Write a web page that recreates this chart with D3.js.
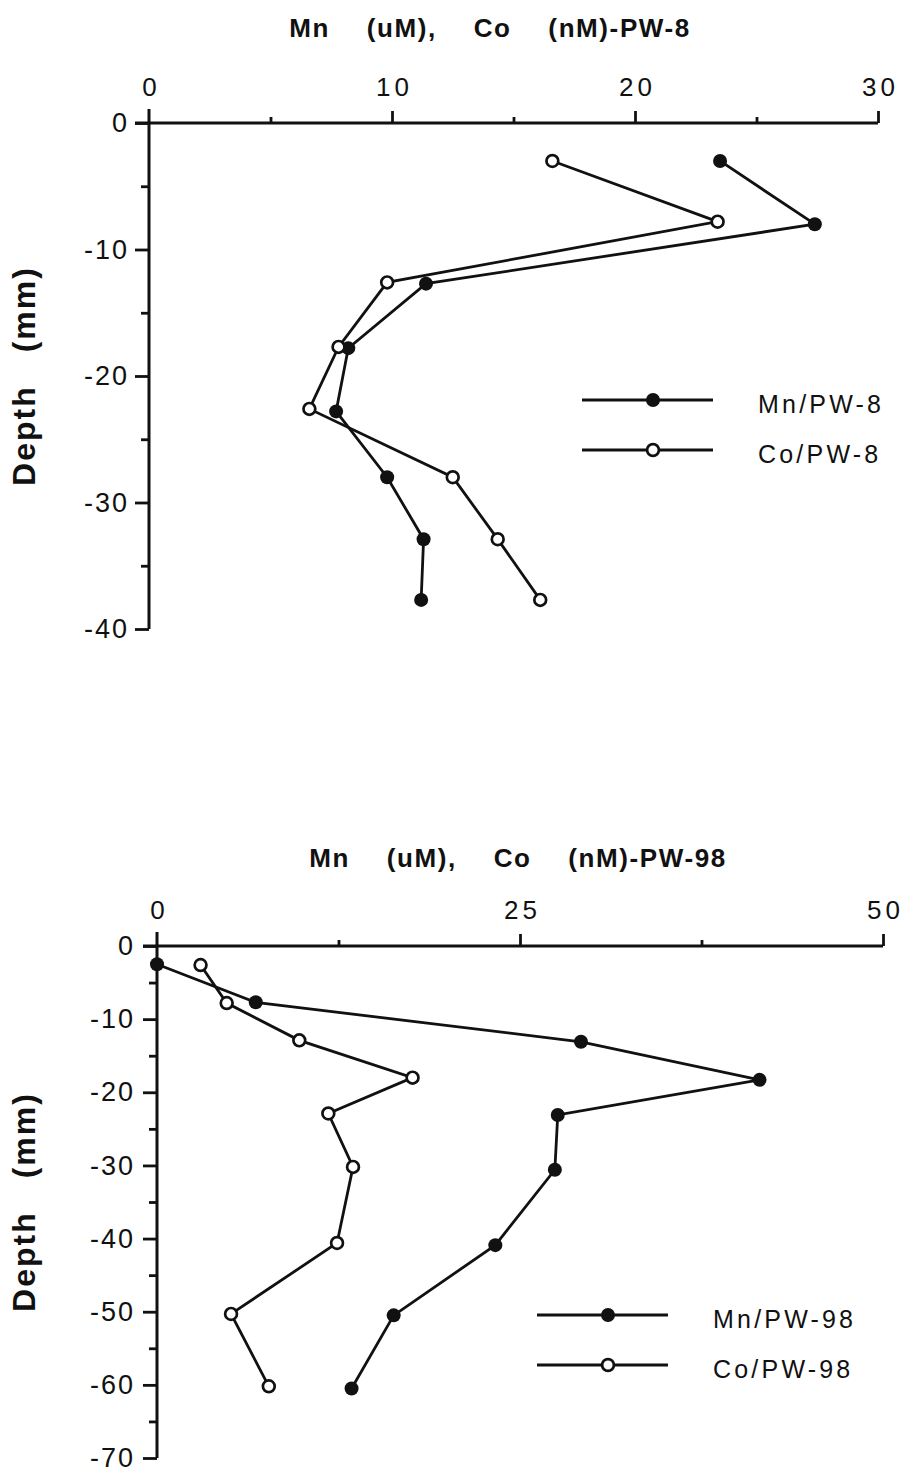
<!DOCTYPE html>
<html>
<head>
<meta charset="utf-8">
<script src="https://cdn.jsdelivr.net/npm/d3@7"></script>
<style>
  html, body { margin: 0; padding: 0; background: #fff; }
  svg text { font-family: "Liberation Sans", Arial, Helvetica, sans-serif; fill: #111; }
</style>
</head>
<body>
<div id="chart"></div>
<script>
// Mn / Co pore-water profiles, two cores (PW-8 on top, PW-98 below).

// ---- data ----
var mn8Value = [23.5, 27.4, 11.4, 8.2, 7.7, 9.8, 11.3, 11.2];
var mn8Depth = [-3, -8, -12.7, -17.8, -22.8, -28, -32.9, -37.7];
var co8Value = [16.6, 23.4, 9.8, 7.8, 6.6, 12.5, 14.35, 16.1];
var co8Depth = [-3, -7.8, -12.6, -17.7, -22.6, -28, -32.9, -37.7];

var mn98Value = [0, 6.8, 29.2, 41.5, 27.6, 27.4, 23.3, 16.3, 13.4];
var mn98Depth = [-2.5, -7.7, -13.1, -18.3, -23.1, -30.6, -40.9, -50.5, -60.5];
var co98Value = [3.0, 4.8, 9.8, 17.6, 11.8, 13.5, 12.4, 5.1, 7.7];
var co98Depth = [-2.6, -7.8, -12.9, -18, -22.9, -30.2, -40.6, -50.3, -60.2];

var xMajor8 = [0, 10, 20, 30];
var xMinor8 = [5, 15, 25];
var yMajor8 = [0, -10, -20, -30, -40];
var yMinor8 = [-5, -15, -25, -35];

var xMajor98 = [0, 25, 50];
var xMinor98 = [12.5, 37.5];
var yMajor98 = [0, -10, -20, -30, -40, -50, -60, -70];
var yMinor98 = [-5, -15, -25, -35, -45, -55, -65];

var titles = ["Mn (uM), Co (nM)-PW-8", "Mn (uM), Co (nM)-PW-98"];
var legend8 = ["Mn/PW-8", "Co/PW-8"];
var legend98 = ["Mn/PW-98", "Co/PW-98"];
var yTitle = "Depth (mm)";

var ink = "#111";
var plain = function (d) { return String(d); }; // hyphen minus, as in the print

var svg = d3.select("#chart").append("svg")
  .attr("width", 904).attr("height", 1475);

function zip(xs, ys) {
  return xs.map(function (v, i) { return { v: v, d: ys[i] }; });
}

function panel(opt) {
  var x = d3.scaleLinear().domain(opt.xDomain).range([opt.left, opt.right]);
  var y = d3.scaleLinear().domain(opt.yDomain).range([opt.top, opt.bottom]);
  var g = svg.append("g");

  // title
  g.append("text")
    .attr("x", opt.titleX).attr("y", opt.titleY)
    .attr("text-anchor", "middle")
    .style("font-size", "26px").style("font-weight", "bold")
    .style("letter-spacing", "1.6px").style("word-spacing", "28px")
    .text(opt.title);

  // y axis title
  g.append("text")
    .attr("transform", "translate(35," + (opt.top + opt.bottom) / 2 + ") rotate(-90)")
    .attr("text-anchor", "middle")
    .style("font-size", "32px").style("font-weight", "bold")
    .style("letter-spacing", "2px").style("word-spacing", "22px")
    .text(yTitle);

  // top x axis: major + minor ticks
  var xAxis = g.append("g").attr("transform", "translate(0," + opt.top + ")");
  xAxis.call(d3.axisTop(x).tickValues(opt.xMajor).tickSize(12).tickSizeOuter(0).tickPadding(15)
    .tickFormat(plain));
  xAxis.append("g").call(d3.axisTop(x).tickValues(opt.xMinor).tickSize(6).tickFormat(""))
    .select(".domain").remove();
  xAxis.selectAll(".domain").attr("d", "M" + (opt.left - 14) + ",0H" + opt.right);
  xAxis.selectAll(".tick").filter(function (d) { return d === 0; }).select("line").remove();
  xAxis.selectAll("text")
    .style("font-size", "26px").style("letter-spacing", "4px").attr("dx", "2");

  // left y axis: major + minor ticks
  var yAxis = g.append("g").attr("transform", "translate(" + opt.left + ",0)");
  yAxis.call(d3.axisLeft(y).tickValues(opt.yMajor).tickSize(14).tickSizeOuter(0).tickPadding(opt.yPad)
    .tickFormat(plain));
  yAxis.append("g").call(d3.axisLeft(y).tickValues(opt.yMinor).tickSize(8).tickFormat(""))
    .select(".domain").remove();
  yAxis.selectAll(".domain").attr("d", "M0," + (opt.top - 14) + "V" + opt.bottom);
  yAxis.selectAll("text").style("font-size", "27px").style("letter-spacing", "2px");

  g.selectAll(".domain").attr("stroke", ink).attr("stroke-width", 3);
  g.selectAll(".tick line").attr("stroke", ink).attr("stroke-width", 2.8);
  g.selectAll(".tick text").attr("fill", ink);

  var line = d3.line().x(function (p) { return x(p.v); }).y(function (p) { return y(p.d); });

  opt.series.forEach(function (s) {
    var pts = zip(s.values, s.depths);
    g.append("path").datum(pts)
      .attr("d", line).attr("fill", "none")
      .attr("stroke", ink).attr("stroke-width", 2.8);
    g.selectAll(null).data(pts).join("circle")
      .attr("cx", function (p) { return x(p.v); })
      .attr("cy", function (p) { return y(p.d); })
      .attr("r", s.filled ? 7 : 5.9)
      .attr("fill", s.filled ? ink : "#fff")
      .attr("stroke", ink).attr("stroke-width", s.filled ? 0 : 2.7);
  });

  // legend
  var lg = g.append("g");
  opt.legend.forEach(function (label, i) {
    var ly = opt.legendY + i * opt.legendGap;
    var filled = opt.series[i].filled;
    lg.append("line")
      .attr("x1", opt.legendX).attr("x2", opt.legendX + 131)
      .attr("y1", ly).attr("y2", ly)
      .attr("stroke", ink).attr("stroke-width", 2.8);
    lg.append("circle")
      .attr("cx", opt.legendX + 71).attr("cy", ly)
      .attr("r", filled ? 7 : 5.9)
      .attr("fill", filled ? ink : "#fff")
      .attr("stroke", ink).attr("stroke-width", filled ? 0 : 2.7);
    lg.append("text")
      .attr("x", opt.legendX + 176).attr("y", ly + 13)
      .style("font-size", "25px").style("letter-spacing", "3.2px")
      .text(label);
  });
}

panel({
  xDomain: [0, 30], yDomain: [0, -40],
  left: 149, right: 878, top: 123, bottom: 629,
  xMajor: xMajor8, xMinor: xMinor8, yMajor: yMajor8, yMinor: yMinor8, yPad: 6,
  title: titles[0], titleX: 490, titleY: 37,
  series: [
    { values: mn8Value, depths: mn8Depth, filled: true },
    { values: co8Value, depths: co8Depth, filled: false }
  ],
  legend: legend8, legendX: 582, legendY: 400, legendGap: 50
});

panel({
  xDomain: [0, 50], yDomain: [0, -70],
  left: 157, right: 883, top: 946, bottom: 1458,
  xMajor: xMajor98, xMinor: xMinor98, yMajor: yMajor98, yMinor: yMinor98, yPad: 8,
  title: titles[1], titleX: 518, titleY: 867,
  series: [
    { values: mn98Value, depths: mn98Depth, filled: true },
    { values: co98Value, depths: co98Depth, filled: false }
  ],
  legend: legend98, legendX: 537, legendY: 1315, legendGap: 50
});
</script>
</body>
</html>
